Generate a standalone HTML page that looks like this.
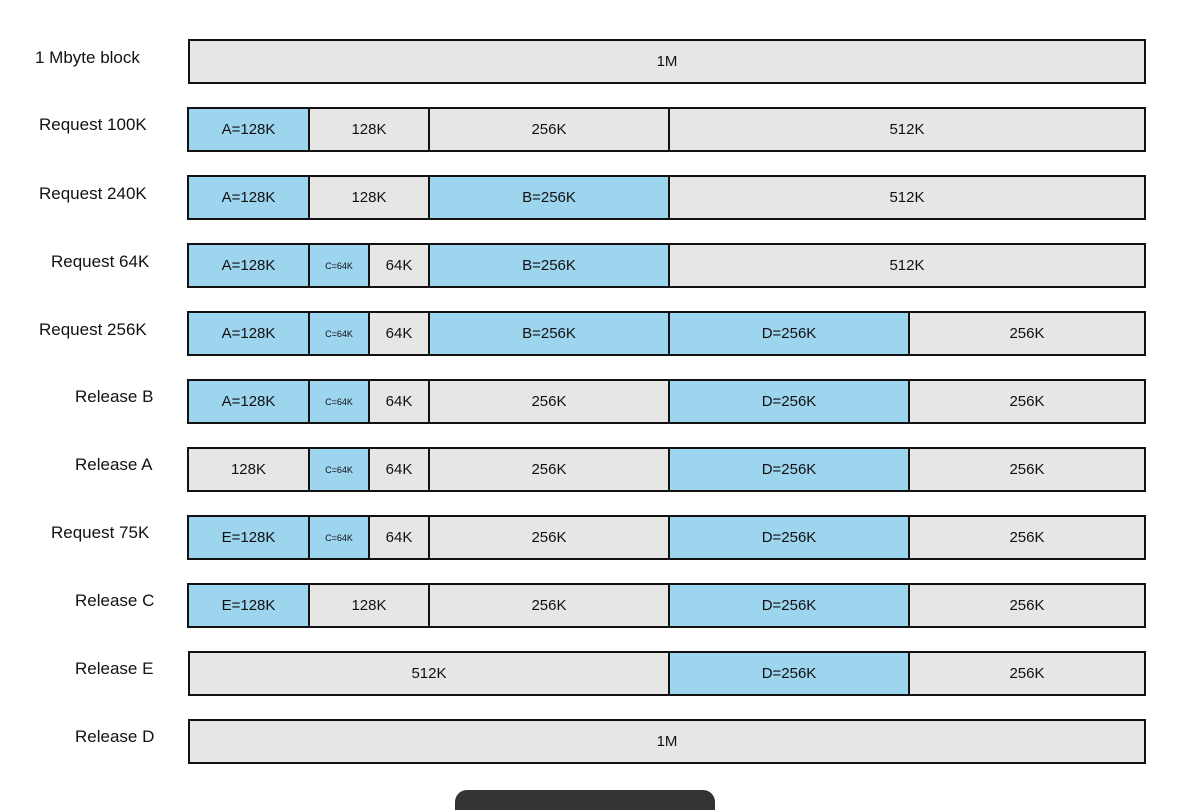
<!DOCTYPE html>
<html><head><style>
body{margin:0;width:1180px;height:799px;background:#fff;position:relative;overflow:hidden;font-family:"Liberation Sans",sans-serif}
.l{position:absolute;font-size:17px;color:#111;line-height:20px}
.r{position:absolute;left:187px;width:959px;height:45px;box-sizing:border-box;border:2px solid #111;display:flex}
.s{height:100%;box-sizing:border-box;border-left:2px solid #111;background:#e6e6e6;display:flex;align-items:center;justify-content:center;font-size:15px;color:#111}
.s:first-child{border-left:none}
.b{background:#9dd4ee}
.t{font-size:9px}
</style></head><body>
<div class="l" style="left:35px;top:48px">1 Mbyte block</div>
<div class="l" style="left:39px;top:115px">Request 100K</div>
<div class="l" style="left:39px;top:184px">Request 240K</div>
<div class="l" style="left:51px;top:252px">Request 64K</div>
<div class="l" style="left:39px;top:320px">Request 256K</div>
<div class="l" style="left:75px;top:387px">Release B</div>
<div class="l" style="left:75px;top:455px">Release A</div>
<div class="l" style="left:51px;top:523px">Request 75K</div>
<div class="l" style="left:75px;top:591px">Release C</div>
<div class="l" style="left:75px;top:659px">Release E</div>
<div class="l" style="left:75px;top:727px">Release D</div>

<div class="r" style="top:39px;left:188px;width:958px"><div class="s" style="flex:1">1M</div></div>

<div class="r" style="top:107px"><div class="s b" style="width:119px">A=128K</div><div class="s" style="width:120px">128K</div><div class="s" style="width:240px">256K</div><div class="s" style="flex:1">512K</div></div>

<div class="r" style="top:175px"><div class="s b" style="width:119px">A=128K</div><div class="s" style="width:120px">128K</div><div class="s b" style="width:240px">B=256K</div><div class="s" style="flex:1">512K</div></div>

<div class="r" style="top:243px"><div class="s b" style="width:119px">A=128K</div><div class="s b t" style="width:60px">C=64K</div><div class="s" style="width:60px">64K</div><div class="s b" style="width:240px">B=256K</div><div class="s" style="flex:1">512K</div></div>

<div class="r" style="top:311px"><div class="s b" style="width:119px">A=128K</div><div class="s b t" style="width:60px">C=64K</div><div class="s" style="width:60px">64K</div><div class="s b" style="width:240px">B=256K</div><div class="s b" style="width:240px">D=256K</div><div class="s" style="flex:1">256K</div></div>

<div class="r" style="top:379px"><div class="s b" style="width:119px">A=128K</div><div class="s b t" style="width:60px">C=64K</div><div class="s" style="width:60px">64K</div><div class="s" style="width:240px">256K</div><div class="s b" style="width:240px">D=256K</div><div class="s" style="flex:1">256K</div></div>

<div class="r" style="top:447px"><div class="s" style="width:119px">128K</div><div class="s b t" style="width:60px">C=64K</div><div class="s" style="width:60px">64K</div><div class="s" style="width:240px">256K</div><div class="s b" style="width:240px">D=256K</div><div class="s" style="flex:1">256K</div></div>

<div class="r" style="top:515px"><div class="s b" style="width:119px">E=128K</div><div class="s b t" style="width:60px">C=64K</div><div class="s" style="width:60px">64K</div><div class="s" style="width:240px">256K</div><div class="s b" style="width:240px">D=256K</div><div class="s" style="flex:1">256K</div></div>

<div class="r" style="top:583px"><div class="s b" style="width:119px">E=128K</div><div class="s" style="width:120px">128K</div><div class="s" style="width:240px">256K</div><div class="s b" style="width:240px">D=256K</div><div class="s" style="flex:1">256K</div></div>

<div class="r" style="top:651px;left:188px;width:958px"><div class="s" style="width:478px">512K</div><div class="s b" style="width:240px">D=256K</div><div class="s" style="flex:1">256K</div></div>

<div class="r" style="top:719px;left:188px;width:958px"><div class="s" style="flex:1">1M</div></div>

<div style="position:absolute;left:455px;top:790px;width:260px;height:20px;background:#333;border-radius:12px 12px 0 0"></div>
</body></html>
